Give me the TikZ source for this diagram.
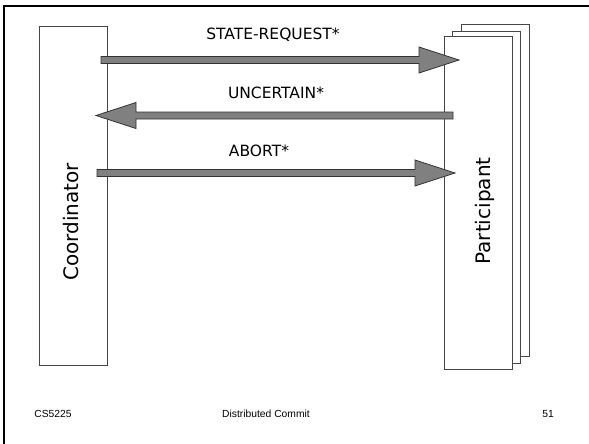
\documentclass[tikz,border=0pt]{standalone}
\usepackage{fontspec}
\setmainfont{DejaVu Sans}
\newfontfamily\footfont{Liberation Sans}
\usetikzlibrary{calc}
\definecolor{arrowgray}{RGB}{128,128,128}
\definecolor{boxline}{RGB}{70,70,70}
\tikzset{
  slideframe/.style={line width=2.5pt, black},
  lifeline/.style={draw=boxline, fill=white, line width=1pt},
  msgarrow/.style={draw=black!80, fill=arrowgray, line width=0.8pt, line join=miter},
  msglabel/.style={font=\fontsize{15.5}{17}\selectfont, inner sep=0pt},
  rolelabel/.style={font=\fontsize{20}{24}\selectfont, rotate=90, inner sep=0pt},
  footer/.style={font=\footfont\fontsize{10.3}{12}\selectfont, inner sep=0pt}
}
% block arrow from #1 to the tip #2
\newcommand{\fatarrow}[2]{%
  \path ($(#2)!40pt!(#1)$) coordinate (hb);
  \filldraw[msgarrow]
    ($(#1)!3.5pt!90:(#2)$) -- ($(hb)!3.5pt!-90:(#1)$) -- ($(hb)!13pt!-90:(#1)$)
    -- (#2) -- ($(hb)!13pt!90:(#1)$) -- ($(hb)!3.5pt!90:(#1)$)
    -- ($(#1)!3.5pt!-90:(#2)$) -- cycle;}
\begin{document}
\begin{tikzpicture}[x=1pt, y=-1pt]
\useasboundingbox (0,0) rectangle (589,444);
% slide frame (top and left edges)
\draw[slideframe] (4,450) -- (4,6) -- (595,6);

% coordinator lifeline
\draw[lifeline] (39,27) rectangle (107,365);
\node[rolelabel] (coord) at (71,222) {Coordinator};

% participant lifelines (stacked pages)
\draw[lifeline] (461,25) rectangle (529,356);
\draw[lifeline] (452,32) rectangle (520,363);
\draw[lifeline] (444,37) rectangle (512,369);
\node[rolelabel] (part) at (485,211) {Participant};

% message endpoints
\coordinate (m1s) at (101,60);  \coordinate (m1t) at (459,60);
\coordinate (m2s) at (453,115.5); \coordinate (m2t) at (96,115.5);
\coordinate (m3s) at (97,173);  \coordinate (m3t) at (455,173);

\fatarrow{m1s}{m1t}
\fatarrow{m2s}{m2t}
\fatarrow{m3s}{m3t}

\node[msglabel] (l1) at (273,35) {STATE-REQUEST*};
\node[msglabel] (l2) at (276,93) {UNCERTAIN*};
\node[msglabel] (l3) at (259,151) {ABORT*};

% footer
\node[footer] (f1) at (53,414) {CS5225};
\node[footer] (f2) at (266,414) {Distributed Commit};
\node[footer] (f3) at (548,414) {51};
\end{tikzpicture}
\end{document}
